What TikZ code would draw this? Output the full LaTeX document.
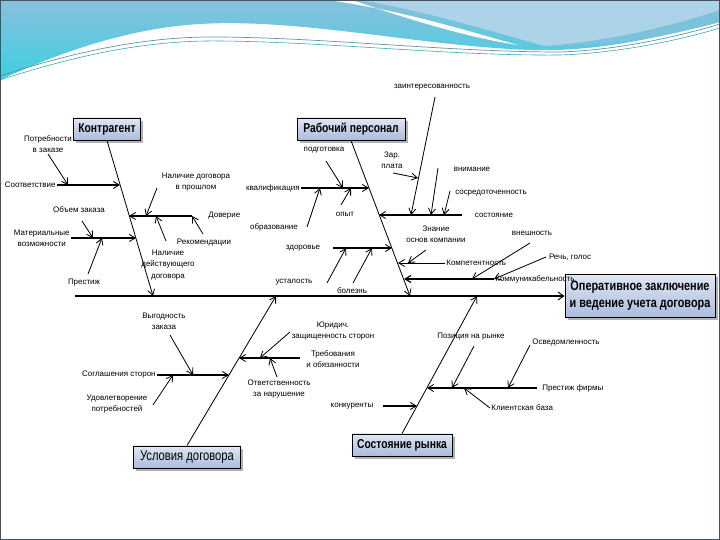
\documentclass[tikz,border=0pt]{standalone}
\usepackage{fontspec}
\setmainfont{Liberation Sans}
\newfontfamily\narrowfont[FakeStretch=0.8]{Liberation Sans}
\usetikzlibrary{arrows.meta, positioning, calc, shadows}
\definecolor{cBoxTop}{RGB}{224,230,244}
\definecolor{cBoxBot}{RGB}{170,188,220}
\definecolor{cSky}{RGB}{136,192,220}
\definecolor{cTeal}{RGB}{62,208,226}
\definecolor{cFrame}{RGB}{70,82,92}
\tikzset{
	catbox/.style   ={rectangle, draw=black, thick, top color=cBoxTop, bottom color=cBoxBot, minimum height=0.66cm, inner sep=2pt, font=\narrowfont\bfseries\fontsize{11}{13}\selectfont, drop shadow={shadow xshift=2.5pt, shadow yshift=-2.5pt, fill=black, opacity=0.3}},
	resbox/.style   ={catbox, minimum width=4.5cm, minimum height=1.29cm, align=center, font=\narrowfont\bfseries\fontsize{11.6}{14.5}\selectfont},
	lbl/.style      ={align=center, inner sep=1pt, font=\fontsize{6.8}{9.6}\selectfont},
	spine/.style    ={line width=2.4pt, -{Straight Barb[length=5pt, width=7pt, line width=0.8pt]}},
	bone/.style     ={line width=0.7pt, -{Straight Barb[length=5pt, width=6pt]}},
	branch/.style   ={line width=1.6pt, -{Straight Barb[length=5pt, width=6pt, line width=0.7pt]}},
	cause/.style    ={line width=0.7pt, -{Straight Barb[length=5pt, width=6pt]}},
}

\begin{document}
\begin{tikzpicture}[x=0.03cm, y=-0.03cm]
	% slide
	\useasboundingbox (0,0) rectangle (720,540);
	\shade[top color=cSky, bottom color=cTeal] (0,0) -- (720,0) -- (720,22) .. controls (650,40) and (590,52) .. (530,50) .. controls (420,46) and (300,18) .. (200,24) .. controls (130,28) and (60,52) .. (0,80) -- cycle;
	\fill[cSky!70!white] (360,0) -- (720,0) -- (720,20) .. controls (660,36) and (600,46) .. (545,46) .. controls (480,28) and (420,10) .. (360,0) -- cycle;
	\fill[cSky!85!cTeal] (545,46) .. controls (600,47) and (660,38) .. (720,22) -- (720,10) .. controls (660,30) and (600,42) .. (545,46) -- cycle;
	\fill[white] (328,0) .. controls (410,12) and (470,32) .. (518,45) .. controls (470,38) and (410,20) .. (352,0) -- cycle;
	\draw[cSky!75!black, line width=0.6pt] (0,76) .. controls (80,50) and (150,36) .. (220,37) .. controls (330,38) and (450,52) .. (560,52) .. controls (620,50) and (680,36) .. (720,24);
	\draw[cTeal!80!black, line width=0.5pt] (0,80) .. controls (80,54) and (150,40) .. (220,41) .. controls (330,42) and (450,56) .. (560,55) .. controls (620,53) and (680,40) .. (720,28);
	\draw[cFrame, line width=0.8pt] (0.5,0.5) rectangle (719.5,539.5);

	% effect and spine
	\node[resbox] (res) at (640,296) {Оперативное заключение\\и ведение учета договора};
	\coordinate (tail) at (75,296);
	\draw[spine] (tail) -- (res.west);

	% Контрагент
	\node[catbox, minimum width=2.01cm] (kontr) at (107,129) {Контрагент};
	\coordinate (kontrEnd) at (153,296);
	\draw[bone] (kontr.south) -- (kontrEnd);
	\coordinate (kA) at (120,185);
	\coordinate (kB) at (129,216);
	\coordinate (kC) at (136,238);
	\node[lbl, anchor=east] (sootv) at (57,185) {Соответствие};
	\draw[branch] (sootv.east) -- (kA);
	\node[lbl] (potr) at (48,144) {Потребности\\в заказе};
	\coordinate (potrTo) at (68,185);
	\draw[cause] (potr.south) -- (potrTo);
	\coordinate (kBend) at (192,216);
	\draw[branch] (kBend) -- (kB);
	\node[lbl] (proshl) at (196,182) {Наличие договора\\в прошлом};
	\coordinate (proshlFrom) at (157,188);
	\coordinate (proshlTo) at (146,216);
	\draw[cause] (proshlFrom) -- (proshlTo);
	\node[lbl, anchor=west] (dover) at (207,216) {Доверие};
	\coordinate (doverFrom) at (203,234);
	\draw[cause] (doverFrom) -- (kBend);
	\node[lbl] (rekom) at (204,243) {Рекомендации};
	\coordinate (rekomFrom) at (166,241);
	\coordinate (rekomTo) at (156,216);
	\draw[cause] (rekomFrom) -- (rekomTo);
	\node[lbl] (deistv) at (168,265) {Наличие\\действующего\\договора};
	\node[lbl, anchor=east] (mater) at (71,238) {Материальные\\возможности};
	\draw[branch] (mater.east) -- (kC);
	\node[lbl] (obem) at (79,210) {Объем заказа};
	\coordinate (obemFrom) at (82,221);
	\coordinate (obemTo) at (93,238);
	\draw[cause] (obemFrom) -- (obemTo);
	\node[lbl] (prestizh) at (84,283) {Престиж};
	\coordinate (prestizhFrom) at (88,274);
	\coordinate (prestizhTo) at (102,238);
	\draw[cause] (prestizhFrom) -- (prestizhTo);

	% Рабочий персонал
	\node[catbox, minimum width=3.24cm] (pers) at (351,129) {Рабочий персонал};
	\coordinate (persEnd) at (410,296);
	\draw[bone] (pers.south) -- (persEnd);
	\coordinate (pD) at (369,188);
	\coordinate (pE) at (379,215);
	\coordinate (pF) at (392,248);
	\coordinate (pG) at (398,263);
	\coordinate (pH) at (404,279);
	\node[lbl, anchor=east] (kvalif) at (301,188) {квалификация};
	\draw[branch] (kvalif.east) -- (pD);
	\node[lbl] (podgot) at (324,150) {подготовка};
	\coordinate (podgotFrom) at (326,161);
	\coordinate (podgotTo) at (343,188);
	\draw[cause] (podgotFrom) -- (podgotTo);
	\node[lbl] (opyt) at (345,214) {опыт};
	\coordinate (opytFrom) at (341,205);
	\coordinate (opytTo) at (351,188);
	\draw[cause] (opytFrom) -- (opytTo);
	\node[lbl] (obraz) at (274,227) {образование};
	\coordinate (obrazFrom) at (307,227);
	\coordinate (obrazTo) at (320,188);
	\draw[cause] (obrazFrom) -- (obrazTo);
	\coordinate (pEend) at (462,215);
	\draw[branch] (pEend) -- (pE);
	\node[lbl] (sostoyan) at (494,215) {состояние};
	\node[lbl] (zainter) at (432,87) {заинтересованность};
	\coordinate (zainterFrom) at (435,97);
	\coordinate (zainterTo) at (411,215);
	\draw[cause] (zainterFrom) -- (zainterTo);
	\node[lbl] (zarpl) at (392,160) {Зар.\\плата};
	\coordinate (zarplFrom) at (393,173);
	\coordinate (zarplTo) at (418,178);
	\draw[cause] (zarplFrom) -- (zarplTo);
	\node[lbl] (vniman) at (472,169) {внимание};
	\coordinate (vnimanFrom) at (438,168);
	\coordinate (vnimanTo) at (431,215);
	\draw[cause] (vnimanFrom) -- (vnimanTo);
	\node[lbl] (sosred) at (491,193) {сосредоточенность};
	\coordinate (sosredFrom) at (450,191);
	\coordinate (sosredTo) at (444,215);
	\draw[cause] (sosredFrom) -- (sosredTo);
	\coordinate (pFbeg) at (333,248);
	\draw[branch] (pFbeg) -- (pF);
	\node[lbl] (zdorov) at (303,248) {здоровье};
	\node[lbl] (ustal) at (294,282) {усталость};
	\coordinate (ustalFrom) at (327,283);
	\coordinate (ustalTo) at (346,248);
	\draw[cause] (ustalFrom) -- (ustalTo);
	\node[lbl] (bolezn) at (352,291) {болезнь};
	\coordinate (boleznFrom) at (353,283);
	\coordinate (boleznTo) at (372,248);
	\draw[cause] (boleznFrom) -- (boleznTo);
	\node[lbl, anchor=west] (kompet) at (445,263) {Компетентность};
	\draw[cause] (kompet.west) -- (pG);
	\node[lbl] (znanie) at (436,234) {Знание\\основ компании};
	\coordinate (znanieFrom) at (426,250);
	\coordinate (znanieTo) at (408,263);
	\draw[cause] (znanieFrom) -- (znanieTo);
	\node[lbl, anchor=west] (kommun) at (494,279) {Коммуникабельность};
	\draw[cause, line width=1pt] (kommun.west) -- (pH);
	\node[lbl] (vnesh) at (532,233) {внешность};
	\coordinate (vneshFrom) at (530,243);
	\coordinate (vneshTo) at (472,279);
	\draw[cause] (vneshFrom) -- (vneshTo);
	\node[lbl] (rech) at (570,257) {Речь, голос};
	\coordinate (rechFrom) at (546,257);
	\draw[cause] (rechFrom) -- (kommun.west);

	% Условия договора
	\node[catbox, minimum width=3.21cm, font=\narrowfont\fontsize{12}{14}\selectfont] (usl) at (187,457) {Условия договора};
	\coordinate (uslEnd) at (276,296);
	\draw[bone] (usl.north) -- (uslEnd);
	\coordinate (uG) at (229,375);
	\coordinate (uH) at (239,358);
	\node[lbl, anchor=east] (soglash) at (157,375) {Соглашения сторон};
	\draw[branch] (soglash.east) -- (uG);
	\node[lbl] (vygod) at (164,321) {Выгодность\\заказа};
	\coordinate (vygodFrom) at (170,335);
	\coordinate (vygodTo) at (193,375);
	\draw[cause] (vygodFrom) -- (vygodTo);
	\node[lbl] (udovl) at (117,404) {Удовлетворение\\потребностей};
	\coordinate (udovlFrom) at (153,405);
	\coordinate (udovlTo) at (173,375);
	\draw[cause] (udovlFrom) -- (udovlTo);
	\coordinate (uHend) at (300,358);
	\draw[branch] (uHend) -- (uH);
	\node[lbl] (yurid) at (333,331) {Юридич.\\защищенность сторон};
	\coordinate (yuridFrom) at (290,332);
	\coordinate (yuridTo) at (260,358);
	\draw[cause] (yuridFrom) -- (yuridTo);
	\node[lbl] (trebov) at (333,359) {Требования\\и обязанности};
	\node[lbl] (otvet) at (279,389) {Ответственность\\за нарушение};
	\coordinate (otvetFrom) at (277,377);
	\coordinate (otvetTo) at (270,358);
	\draw[cause] (otvetFrom) -- (otvetTo);

	% Состояние рынка
	\node[catbox, minimum width=3.0cm] (rynok) at (402,445) {Состояние рынка};
	\coordinate (rynokEnd) at (477,296);
	\draw[bone] (rynok.north) -- (rynokEnd);
	\coordinate (rI) at (417,406);
	\coordinate (rJ) at (427,388);
	\node[lbl] (konkur) at (352,406) {конкуренты};
	\coordinate (konkurBeg) at (383,406);
	\draw[branch] (konkurBeg) -- (rI);
	\coordinate (rJend) at (537,388);
	\draw[branch] (rJend) -- (rJ);
	\node[lbl, anchor=west] (prestF) at (541,388) {Престиж фирмы};
	\node[lbl] (pozic) at (471,337) {Позиция на рынке};
	\coordinate (pozicFrom) at (474,346);
	\coordinate (pozicTo) at (452,388);
	\draw[cause] (pozicFrom) -- (pozicTo);
	\node[lbl] (osved) at (566,343) {Осведомленность};
	\coordinate (osvedFrom) at (530,345);
	\coordinate (osvedTo) at (508,388);
	\draw[cause] (osvedFrom) -- (osvedTo);
	\node[lbl, anchor=west] (klient) at (490,408) {Клиентская база};
	\coordinate (klientTo) at (464,388);
	\draw[cause] (klient.west) -- (klientTo);
\end{tikzpicture}
\end{document}
